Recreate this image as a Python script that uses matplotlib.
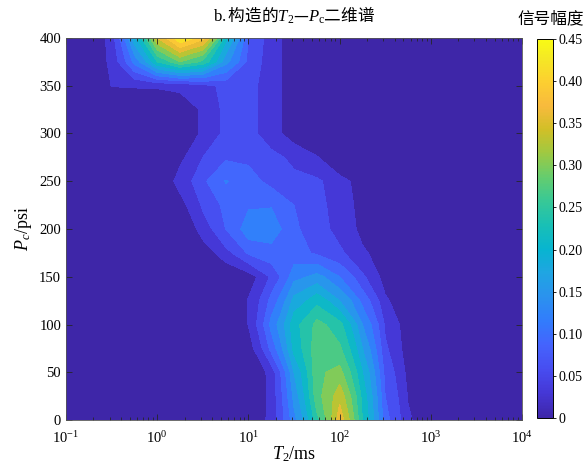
import numpy as np
import matplotlib
matplotlib.use('Agg')
import matplotlib.pyplot as plt
from matplotlib.colors import LinearSegmentedColormap, Normalize
from matplotlib.cm import ScalarMappable
from matplotlib.ticker import LogLocator, NullFormatter

plt.rcParams['font.family'] = ['Liberation Serif', 'DejaVu Sans']
plt.rcParams['mathtext.fontset'] = 'custom'
plt.rcParams['mathtext.rm'] = 'Liberation Serif'
plt.rcParams['mathtext.it'] = 'Liberation Serif:italic'
plt.rcParams['mathtext.bf'] = 'Liberation Serif:bold'

# grid of the 2D spectrum: log10(T2/ms) columns, Pc rows
t2_exp = [-1.0, -0.75, -0.5, -0.25, 0.0, 0.25, 0.5, 0.75, 1.0, 1.25, 1.5,
          1.75, 2.0, 2.25, 2.5, 2.75, 3.0, 3.25, 3.5, 3.75, 4.0]
pc_psi = [0, 25, 50, 75, 100, 125, 150, 175, 200, 225, 250, 275, 300,
          325, 350, 375, 400]

# signal amplitude, one row per Pc value
amp = [
    [0, 0, 0, 0, 0, 0, 0, 0, 0, .042, .14, .26, .38, .24, .10, .035, 0, 0, 0, 0, 0],
    [0, 0, 0, 0, 0, 0, 0, 0, 0, .040, .16, .29, .35, .23, .09, .028, 0, 0, 0, 0, 0],
    [0, 0, 0, 0, 0, 0, 0, 0, 0, .042, .18, .295, .31, .21, .08, .020, 0, 0, 0, 0, 0],
    [0, 0, 0, 0, 0, 0, 0, 0, .015, .10, .22, .29, .275, .18, .065, .012, 0, 0, 0, 0, 0],
    [0, 0, 0, 0, 0, 0, 0, 0, .031, .13, .23, .28, .25, .15, .055, .010, 0, 0, 0, 0, 0],
    [0, 0, 0, 0, 0, 0, 0, 0, .032, .10, .19, .23, .18, .11, .035, 0, 0, 0, 0, 0, 0],
    [0, 0, 0, 0, 0, 0, 0, 0, .015, .065, .14, .16, .12, .065, .015, 0, 0, 0, 0, 0, 0],
    [0, 0, 0, 0, 0, 0, .012, .05, .095, .11, .10, .085, .065, .035, .01, 0, 0, 0, 0, 0, 0],
    [0, 0, 0, 0, 0, 0, .045, .09, .14, .135, .095, .07, .05, .02, 0, 0, 0, 0, 0, 0, 0],
    [0, 0, 0, 0, 0, .02, .065, .10, .115, .118, .09, .07, .042, .02, 0, 0, 0, 0, 0, 0, 0],
    [0, 0, 0, 0, .01, .04, .085, .122, .10, .08, .07, .065, .04, .015, 0, 0, 0, 0, 0, 0, 0],
    [0, 0, 0, 0, 0, .024, .06, .085, .085, .07, .05, .032, 0, 0, 0, 0, 0, 0, 0, 0, 0],
    [0, 0, 0, 0, 0, .015, .034, .07, .07, .04, .015, 0, 0, 0, 0, 0, 0, 0, 0, 0, 0],
    [0, 0, 0, 0, 0, .015, .034, .07, .07, .04, .015, 0, 0, 0, 0, 0, 0, 0, 0, 0, 0],
    [0, 0, .031, .033, .034, .036, .05, .07, .07, .04, .015, 0, 0, 0, 0, 0, 0, 0, 0, 0, 0],
    [0, 0, .040, .13, .24, .30, .26, .16, .08, .04, .015, 0, 0, 0, 0, 0, 0, 0, 0, 0, 0],
    [0, 0, .045, .20, .36, .45, .40, .22, .09, .04, .015, 0, 0, 0, 0, 0, 0, 0, 0, 0, 0],
]

levels = [0, 0.03, 0.06, 0.09, 0.12, 0.15, 0.18, 0.21, 0.24, 0.27, 0.30,
          0.33, 0.36, 0.39, 0.42, 0.45]
cbar_ticks = [0, 0.05, 0.10, 0.15, 0.20, 0.25, 0.30, 0.35, 0.40, 0.45]
cbar_labels = ['0', '0.05', '0.10', '0.15', '0.20', '0.25', '0.30', '0.35',
               '0.40', '0.45']
x_ticks = [0.1, 1, 10, 100, 1000, 10000]
y_ticks = [0, 50, 100, 150, 200, 250, 300, 350, 400]

# parula-like colormap
parula = LinearSegmentedColormap.from_list('parula', [
    (0 / 63, (0.2422, 0.1504, 0.6603)),
    (4 / 63, (0.2706, 0.2147, 0.8364)),
    (8 / 63, (0.2813, 0.3006, 0.9414)),
    (12 / 63, (0.2699, 0.3892, 0.9906)),
    (16 / 63, (0.1963, 0.4847, 0.9892)),
    (20 / 63, (0.1687, 0.5703, 0.9359)),
    (24 / 63, (0.1248, 0.6459, 0.8883)),
    (28 / 63, (0.0297, 0.7082, 0.8163)),
    (32 / 63, (0.0964, 0.7500, 0.7120)),
    (36 / 63, (0.2161, 0.7843, 0.5923)),
    (40 / 63, (0.3909, 0.8029, 0.4354)),
    (44 / 63, (0.6174, 0.7876, 0.2612)),
    (48 / 63, (0.8203, 0.7498, 0.1535)),
    (52 / 63, (0.9728, 0.7298, 0.2394)),
    (56 / 63, (0.9892, 0.8136, 0.1885)),
    (60 / 63, (0.9597, 0.9135, 0.1423)),
    (63 / 63, (0.9769, 0.9839, 0.0805)),
])
vmax = levels[-1]
band_colors = [parula(lv / vmax) for lv in levels[:-1]]

T2 = 10.0 ** np.array(t2_exp)
P = np.array(pc_psi, dtype=float)
Z = np.array(amp)

fig = plt.figure(figsize=(5.86, 4.65), dpi=100)
ax = fig.add_axes([66 / 586, 1 - 420 / 465, 456 / 586, 382 / 465])
ax.contourf(T2, P, Z, levels=levels, colors=band_colors)

ax.set_xscale('log')
ax.set_xlim(0.1, 1e4)
ax.set_ylim(0, 400)
ax.set_xticks(x_ticks)
ax.xaxis.set_minor_locator(LogLocator(base=10, subs=np.arange(2, 10), numticks=20))
ax.xaxis.set_minor_formatter(NullFormatter())
ax.set_yticks(y_ticks)
ax.tick_params(which='both', direction='in', top=True, right=True,
               labelsize=10.5, colors='#262626', labelcolor='black')
ax.tick_params(which='major', length=4, width=0.6)
ax.tick_params(which='minor', length=2.5, width=0.6)
ax.tick_params(axis='x', which='major', pad=7)
for s in ax.spines.values():
    s.set_linewidth(0.6)
    s.set_color('#555555')

ax.set_xlabel('$T_2$/ms', fontsize=13, labelpad=-1)
ax.set_ylabel('$P_c$/psi', fontsize=13, labelpad=4)

fig.text(294 / 586, 1 - 15 / 465, r'$\mathrm{b.}$构造的$T_2$—$P_\mathrm{c}$二维谱',
         ha='center', va='center', fontsize=12, family=['Noto Sans CJK SC'])

cax = fig.add_axes([537 / 586, 1 - 418 / 465, 16 / 586, 379 / 465])
cb = fig.colorbar(ScalarMappable(norm=Normalize(0, vmax), cmap=parula), cax=cax)
cb.set_ticks(cbar_ticks)
cb.set_ticklabels(cbar_labels)
cax.tick_params(direction='out', length=2.5, width=0.6, labelsize=10, pad=1.5)
cb.outline.set_linewidth(0.7)
fig.text(584 / 586, 1 - 19 / 465, '信号幅度', ha='right', va='center',
         fontsize=12, family=['Noto Sans CJK SC'])

fig.savefig('out.png', dpi=100)
